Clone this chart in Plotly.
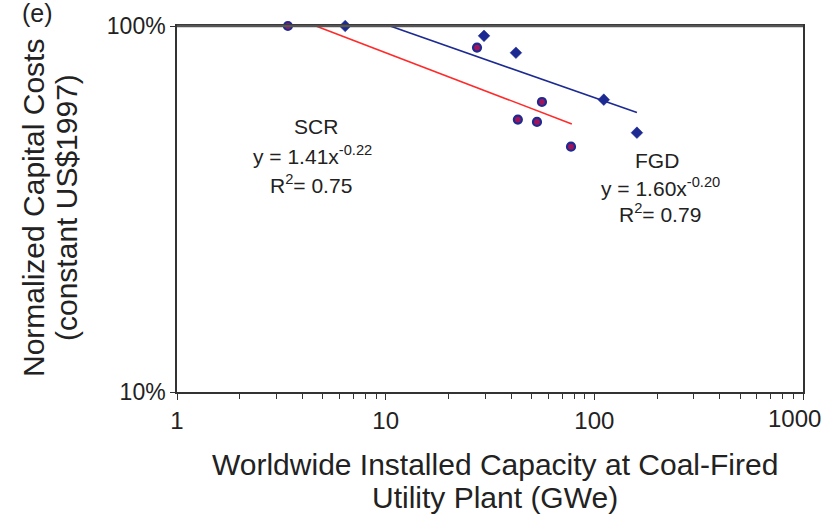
import plotly.graph_objects as go

# Data
scr_x = [3.4, 27.4, 43.0, 53.1, 56.1, 77.3]
scr_y = [1.00, 0.873, 0.555, 0.547, 0.620, 0.468]
fgd_x = [6.4, 29.6, 42.1, 111, 160]
fgd_y = [1.00, 0.940, 0.845, 0.629, 0.511]

# Fitted power-law trend lines (endpoints)
scr_fit_x = [4.63, 78]
scr_fit_y = [1.00, 0.540]
fgd_fit_x = [10.5, 160]
fgd_fit_y = [1.00, 0.580]

y_tickvals = [0.1, 1.0]
y_ticktext = ["10%", "100%"]
x_tickvals = [1, 10, 100, 1000]
x_ticktext = ["1", "10", "100", "1000"]
x_minor = [m * d for d in (1, 10, 100) for m in range(2, 10)]

x_title = ["Worldwide Installed Capacity at Coal-Fired", "Utility Plant (GWe)"]
y_title = ["Normalized Capital Costs", "(constant US$1997)"]

FONT = "Liberation Sans, Arial, sans-serif"
NAVY = "#1c2a92"
RED = "#ff2a2a"
INK = "#222"

fig = go.Figure()
fig.add_trace(go.Scatter(x=scr_fit_x, y=scr_fit_y, mode="lines",
                         line=dict(color=RED, width=1.6), showlegend=False))
fig.add_trace(go.Scatter(x=fgd_fit_x, y=fgd_fit_y, mode="lines",
                         line=dict(color=NAVY, width=1.6), showlegend=False))
fig.add_trace(go.Scatter(x=scr_x, y=scr_y, mode="markers",
                         marker=dict(symbol="circle", size=8, color="#a0145a",
                                     line=dict(color=NAVY, width=2.2)),
                         showlegend=False, cliponaxis=False))
fig.add_trace(go.Scatter(x=fgd_x, y=fgd_y, mode="markers",
                         marker=dict(symbol="diamond", size=9, color=NAVY,
                                     line=dict(color=NAVY, width=0.5)),
                         showlegend=False, cliponaxis=False))

# the last x label sits at the very edge of the page; draw it as an annotation
x_ticktext_axis = [t if v < 1000 else "" for v, t in zip(x_tickvals, x_ticktext)]

fig.update_layout(
    width=825, height=515,
    margin=dict(l=177, r=22, t=26, b=123),
    paper_bgcolor="white", plot_bgcolor="white",
    font=dict(family=FONT, color=INK),
    xaxis=dict(type="log", range=[0, 3], tickvals=x_tickvals, ticktext=x_ticktext_axis,
               showgrid=False, zeroline=False, showline=True, linecolor="#333",
               linewidth=1.5, mirror=True, ticks="outside", ticklen=6, tickcolor="#333",
               tickfont=dict(size=24, family=FONT, color=INK),
               minor=dict(tickvals=x_minor, ticks="outside", ticklen=5, tickcolor="#333",
                          showgrid=False)),
    yaxis=dict(type="log", range=[-1, 0], tickvals=y_tickvals, ticktext=y_ticktext,
               showgrid=False, zeroline=False, showline=True, linecolor="#333",
               linewidth=1.5, mirror=True, ticks="outside", ticklen=5, tickcolor="#333",
               tickfont=dict(size=23, family=FONT, color=INK)),
)

# thicker top border as in the reference
fig.add_shape(type="line", xref="paper", yref="paper", x0=0, x1=1, y0=1, y1=1,
              line=dict(color="#555", width=2.5))

L, R, T, B = 177, 803, 26, 392


def px2paper(px, py):
    return (px - L) / (R - L), (B - py) / (B - T)


final_ann = []

def add_text(px, py, text, size, angle=0):
    x, y = px2paper(px, py)
    final_ann.append(dict(x=x, y=y, xref="paper", yref="paper", text=text,
                          showarrow=False, textangle=angle,
                          font=dict(size=size, family=FONT, color=INK),
                          xanchor="center", yanchor="middle"))

ann = [
    (316, 127, "SCR"),
    (312, 155, "y = 1.41x<sup>-0.22</sup>"),
    (311, 184, "R<sup>2</sup>= 0.75"),
    (657, 160, "FGD"),
    (660, 187, "y = 1.60x<sup>-0.20</sup>"),
    (660, 213, "R<sup>2</sup>= 0.79"),
]
for px, py, t in ann:
    add_text(px, py, t, 21)

add_text(794, 418, x_ticktext[-1], 24)
add_text(37, 13, "(e)", 25)
add_text(33, 208, y_title[0], 30, -90)
add_text(66, 208, y_title[1], 30, -90)
add_text(495, 465, x_title[0], 30)
add_text(495, 497, x_title[1], 30)

fig.update_layout(annotations=final_ann)

fig.write_html("out.html")
